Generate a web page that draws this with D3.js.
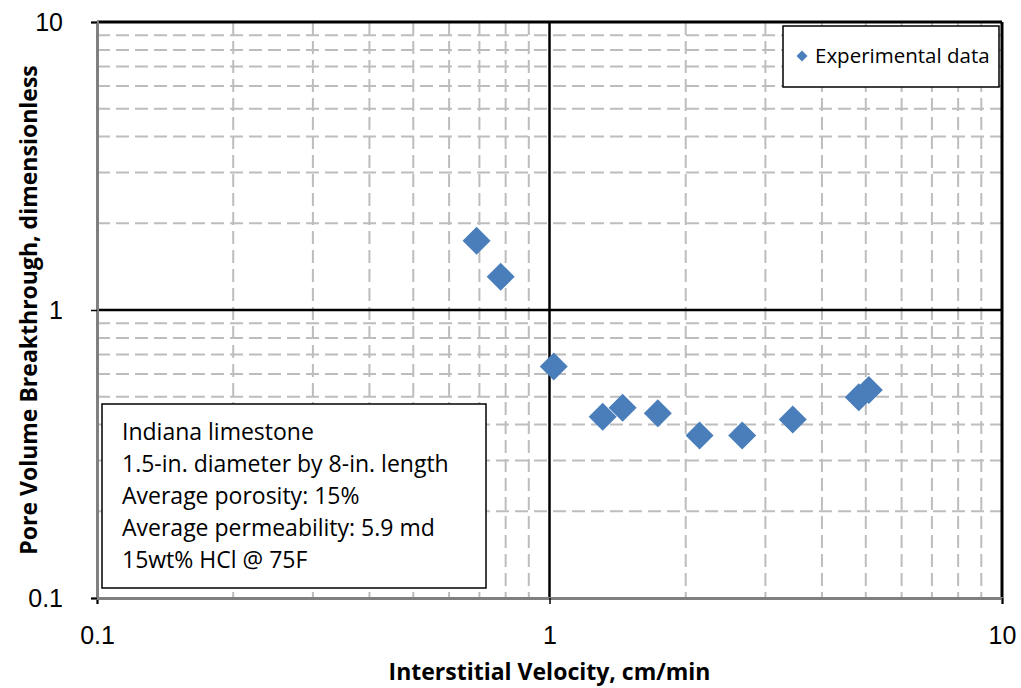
<!DOCTYPE html>
<html>
<head>
<meta charset="utf-8">
<script src="https://cdn.jsdelivr.net/npm/d3@7"></script>
<style>
  body { margin: 0; background: #fff; }
  svg { display: block; font-family: "Open Sans", sans-serif; }
</style>
</head>
<body>
<div id="chart"></div>
<script>
const velocity = [0.69, 0.78, 1.022, 1.311, 1.451, 1.735, 2.146, 2.666, 3.448, 4.825, 5.077];
const pvbt = [1.74, 1.305, 0.636, 0.426, 0.458, 0.438, 0.367, 0.367, 0.417, 0.498, 0.528];
const xTicks = [0.1, 1, 10];
const yTicks = [0.1, 1, 10];
const noteLines = [
    "Indiana limestone",
    "1.5-in. diameter by 8-in. length",
    "Average porosity: 15%",
    "Average permeability: 5.9 md",
    "15wt% HCl @ 75F"
];
const legendLabel = "Experimental data";

const width = 1021, height = 688;
const margin = { top: 22, right: 19, bottom: 90, left: 97 };

const svg = d3.select("#chart")
    .append("svg")
    .attr("width", width)
    .attr("height", height);

const x = d3.scaleLog()
    .domain([0.1, 10])
    .range([margin.left, width - margin.right]);

const y = d3.scaleLog()
    .domain([0.1, 10])
    .range([height - margin.bottom, margin.top]);

// Nebengitter (2..9 je Dekade)
const minorX = [], minorY = [];
[0.1, 1].forEach(d => {
    for (let k = 2; k <= 9; k++) {
        minorX.push(d * k);
        minorY.push(d * k);
    }
});

const grid = svg.append("g");
grid.selectAll("line.mx")
    .data(minorX)
    .enter()
    .append("line")
    .attr("x1", d => x(d)).attr("x2", d => x(d))
    .attr("y1", y(10)).attr("y2", y(0.1))
    .attr("stroke", "#bdbdbd")
    .attr("stroke-width", 2)
    .attr("stroke-dasharray", "13,6");

grid.selectAll("line.my")
    .data(minorY)
    .enter()
    .append("line")
    .attr("y1", d => y(d)).attr("y2", d => y(d))
    .attr("x1", x(0.1)).attr("x2", x(10))
    .attr("stroke", "#bdbdbd")
    .attr("stroke-width", 2)
    .attr("stroke-dasharray", "13,6");

// Hauptgitter bei 1
grid.append("line")
    .attr("x1", x(1)).attr("x2", x(1))
    .attr("y1", y(10)).attr("y2", y(0.1))
    .attr("stroke", "#000").attr("stroke-width", 2.5);
grid.append("line")
    .attr("y1", y(1)).attr("y2", y(1))
    .attr("x1", x(0.1)).attr("x2", x(10))
    .attr("stroke", "#000").attr("stroke-width", 2.5);

// Rahmen oben/rechts schwarz
svg.append("line")
    .attr("x1", x(0.1)).attr("x2", x(10))
    .attr("y1", y(10)).attr("y2", y(10))
    .attr("stroke", "#000").attr("stroke-width", 3);
svg.append("line")
    .attr("x1", x(10)).attr("x2", x(10))
    .attr("y1", y(10)).attr("y2", y(0.1))
    .attr("stroke", "#000").attr("stroke-width", 3);

// Achsen
const xAxis = g => g
    .attr("transform", `translate(0,${y(0.1)})`)
    .call(d3.axisBottom(x).tickValues(xTicks).tickFormat(d3.format("")).tickSize(6).tickPadding(22))
    .call(g => g.select(".domain").attr("stroke", "#808080").attr("stroke-width", 3))
    .call(g => g.selectAll(".tick line").attr("stroke", "#000").attr("stroke-width", 1.5))
    .selectAll("text")
    .style("font-size", "25px")
    .attr("fill", "#000");

const yAxis = g => g
    .attr("transform", `translate(${x(0.1)},0)`)
    .call(d3.axisLeft(y).tickValues(yTicks).tickFormat(d3.format("")).tickSize(6).tickPadding(28))
    .call(g => g.select(".domain").attr("stroke", "#808080").attr("stroke-width", 3))
    .call(g => g.selectAll(".tick line").attr("stroke", "#000").attr("stroke-width", 1.5))
    .selectAll("text")
    .style("font-size", "25px")
    .attr("fill", "#000");

svg.append("g").call(xAxis);
svg.append("g").call(yAxis);

// Achsentitel
svg.append("text")
    .attr("x", (x(0.1) + x(10)) / 2)
    .attr("y", 680)
    .attr("text-anchor", "middle")
    .style("font-size", "23px")
    .style("font-weight", "bold")
    .text("Interstitial Velocity, cm/min");

svg.append("text")
    .attr("transform", `translate(37,${(y(0.1) + y(10)) / 2}) rotate(-90)`)
    .attr("text-anchor", "middle")
    .style("font-size", "23px")
    .style("font-weight", "bold")
    .text("Pore Volume Breakthrough, dimensionless");

// Textkasten
const note = svg.append("g");
note.append("rect")
    .attr("x", 102).attr("y", 404)
    .attr("width", 384).attr("height", 184)
    .attr("fill", "#fff")
    .attr("stroke", "#000").attr("stroke-width", 1.5);
note.selectAll("text")
    .data(noteLines)
    .enter()
    .append("text")
    .attr("x", 122)
    .attr("y", (d, i) => 440 + i * 32)
    .style("font-size", "23px")
    .text(d => d);

// Datenpunkte
const diamond = d3.symbol().type(d3.symbolSquare).size(14 * 14 * 2);
svg.append("g")
    .selectAll("path")
    .data(velocity.map((v, i) => ({ v, p: pvbt[i] })))
    .enter()
    .append("path")
    .attr("d", diamond)
    .attr("transform", d => `translate(${x(d.v)},${y(d.p)}) rotate(45)`)
    .attr("fill", "#4a7ebb")
    .append("title")
    .text(d => `${d.v}: ${d.p}`);

// Legende
const legend = svg.append("g");
legend.append("rect")
    .attr("x", 783).attr("y", 26)
    .attr("width", 216).attr("height", 61)
    .attr("fill", "#fff")
    .attr("stroke", "#000").attr("stroke-width", 1.5);
legend.append("path")
    .attr("d", d3.symbol().type(d3.symbolSquare).size(5.5 * 5.5 * 2))
    .attr("transform", "translate(802,56) rotate(45)")
    .attr("fill", "#4a7ebb");
legend.append("text")
    .attr("x", 815)
    .attr("y", 63)
    .style("font-size", "20.5px")
    .text(legendLabel);
</script>
</body>
</html>
